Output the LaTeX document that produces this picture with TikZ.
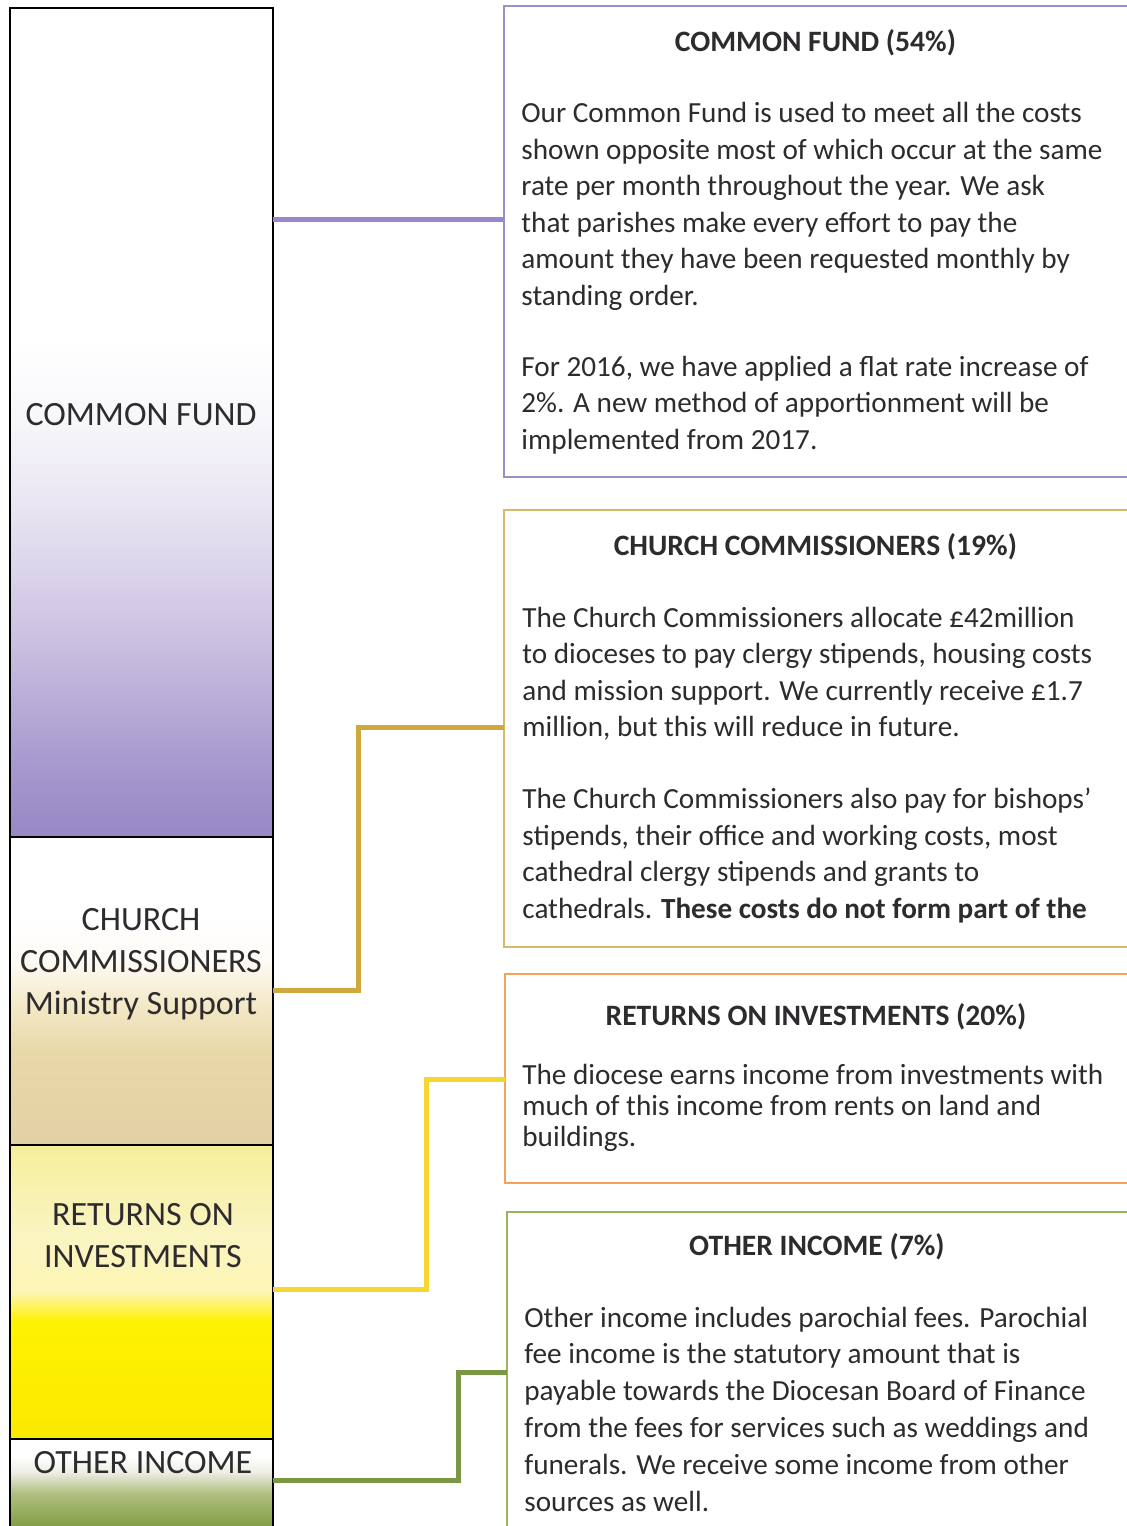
\documentclass[tikz,border=0pt]{standalone}
\usepackage{fontspec}
\setmainfont{Carlito}

\definecolor{inktext}{HTML}{2E2B2E}
\definecolor{cfpurple}{HTML}{9787C4}
\definecolor{cfmidA}{HTML}{A99CD0}
\definecolor{cfmidB}{HTML}{CDC4E3}
\definecolor{cfmidC}{HTML}{E9E5F2}
\definecolor{cfmidD}{HTML}{F7F6FA}
\definecolor{cctan}{HTML}{E2D1A4}
\definecolor{ccmidA}{HTML}{E8D8A8}
\definecolor{ccmidB}{HTML}{F3E8C6}
\definecolor{ccmidC}{HTML}{FDFBF5}
\definecolor{riyellow}{HTML}{FAE900}
\definecolor{rimidA}{HTML}{FFF200}
\definecolor{rimidB}{HTML}{FCF5B4}
\definecolor{rimidC}{HTML}{FAF4C2}
\definecolor{ritop}{HTML}{F6EE9C}
\definecolor{oigreen}{HTML}{7F9A40}
\definecolor{oimidA}{HTML}{B0C080}
\definecolor{oimidB}{HTML}{EEEEE6}
\definecolor{cfline}{HTML}{9A87CB}
\definecolor{ccline}{HTML}{CFA93E}
\definecolor{riline}{HTML}{F6D631}
\definecolor{oiline}{HTML}{7A9844}
\definecolor{cfedge}{HTML}{9D8DC8}
\definecolor{ccedge}{HTML}{D8B968}
\definecolor{riedge}{HTML}{F6A25A}
\definecolor{oiedge}{HTML}{9BB35C}

\pgfdeclareverticalshading{cfshade}{100bp}{color(0bp)=(cfpurple); color(25bp)=(cfpurple);
  color(30bp)=(cfmidA); color(37.5bp)=(cfmidB); color(45bp)=(cfmidC); color(50bp)=(cfmidD);
  color(55bp)=(white); color(100bp)=(white)}
\pgfdeclareverticalshading{ccshade}{100bp}{color(0bp)=(cctan); color(25bp)=(cctan);
  color(40bp)=(ccmidA); color(47.5bp)=(ccmidB); color(55bp)=(ccmidC);
  color(62bp)=(white); color(100bp)=(white)}
\pgfdeclareverticalshading{rishade}{100bp}{color(0bp)=(riyellow); color(25bp)=(riyellow);
  color(45bp)=(rimidA); color(50bp)=(rimidB); color(60bp)=(rimidC);
  color(75bp)=(ritop); color(100bp)=(ritop)}
\pgfdeclareverticalshading{oishade}{100bp}{color(0bp)=(oigreen); color(25bp)=(oigreen);
  color(45bp)=(oimidA); color(57bp)=(oimidB); color(66bp)=(white); color(100bp)=(white)}

\begin{document}
\begin{tikzpicture}[x=0.5pt, y=-0.5pt]
\tikzset{
    barseg/.style= {rectangle, shade, minimum width=131pt, inner sep=0pt, anchor=north west},
    barlbl/.style= {anchor=base, align=center, inner sep=0pt, text=inktext,
        font=\fontsize{17pt}{21pt}\selectfont},
    barline/.style= {draw=black, line width=1pt},
    infobox/.style= {rectangle, inner sep=0pt, anchor=north west},
    boxtitle/.style= {anchor=base, inner sep=0pt, text=inktext,
        font=\bfseries\fontsize{14.8pt}{17pt}\selectfont},
    boxbody/.style= {anchor=base west, align=left, inner sep=0pt, text=inktext,
        font=\fontsize{14.6pt}{18.25pt}\selectfont},
    link/.style= {line width=2.5pt},
}

\path[use as bounding box, fill=white] (0,0) rectangle (1126,1526);

\node[barseg, minimum height=414pt, shading=cfshade] (cf) at (10,8) {};
\node[barseg, minimum height=153.5pt, shading=ccshade] (cc) at (cf.south west) {};
\node[barseg, minimum height=147pt, shading=rishade] (ri) at (cc.south west) {};
\node[barseg, minimum height=44.5pt, shading=oishade] (oi) at (ri.south west) {};

\draw[barline] (oi.south west) -- (cf.north west) -- (cf.north east) -- (oi.south east);
\draw[barline] (cc.north west) -- (cc.north east) (ri.north west) -- (ri.north east)
    (oi.north west) -- (oi.north east);

\node[barlbl] (cflbl) at (141,425) {COMMON FUND};
\node[barlbl] (cclbl) at (141,1014) {CHURCH\\COMMISSIONERS\\Ministry Support};
\node[barlbl] (rilbl) at (143,1267) {RETURNS ON\\INVESTMENTS};
\node[barlbl] (oilbl) at (143,1473) {OTHER INCOME};

\node[infobox, minimum width=311pt, minimum height=235pt] (cfbox) at (504,6) {};
\node[infobox, minimum width=311pt, minimum height=218pt] (ccbox) at (504,510) {};
\node[infobox, minimum width=310.5pt, minimum height=104pt] (ribox) at (505,974) {};
\node[infobox, minimum width=309.5pt, minimum height=157pt] (oibox) at (507,1212) {};

\draw[draw=cfedge, line width=1.1pt] (cfbox.north east) -- (cfbox.north west) -- (cfbox.south west) -- (cfbox.south east);
\draw[draw=ccedge, line width=0.8pt] (ccbox.north east) -- (ccbox.north west) -- (ccbox.south west) -- (ccbox.south east);
\draw[draw=riedge, line width=0.8pt] (ribox.north east) -- (ribox.north west) -- (ribox.south west) -- (ribox.south east);
\draw[draw=oiedge, line width=0.9pt] (oibox.north east) -- (oibox.north west) -- (oibox.south west);

\node[boxtitle] (cftitle) at (cfbox.north |- 0,51) {COMMON FUND (54\%)};
\node[boxtitle] (cctitle) at (ccbox.north |- 0,555) {CHURCH COMMISSIONERS (19\%)};
\node[boxtitle] (rititle) at (ribox.north |- 0,1025) {RETURNS ON INVESTMENTS (20\%)};
\node[boxtitle] (oititle) at (oibox.north |- 0,1255) {OTHER INCOME (7\%)};

\node[boxbody] (cftext) at (521,449) {Our Common Fund is used to meet all the costs\\
shown opposite most of which occur at the same\\
rate per month throughout the year. We ask\\
that parishes make every effort to pay the\\
amount they have been requested monthly by\\
standing order.\\[17.25pt]
For 2016, we have applied a flat rate increase of\\
2\%. A new method of apportionment will be\\
implemented from 2017.};

\node[boxbody] (cctext) at (522,918) {The Church Commissioners allocate £42million\\
to dioceses to pay clergy stipends, housing costs\\
and mission support. We currently receive £1.7\\
million, but this will reduce in future.\\[17.75pt]
The Church Commissioners also pay for bishops’\\
stipends, their office and working costs, most\\
cathedral clergy stipends and grants to\\
cathedrals. \textbf{These costs do not form part of the}};

\node[boxbody, font=\fontsize{14.6pt}{15.5pt}\selectfont] (ritext) at (522,1146) {The diocese earns income from investments with\\
much of this income from rents on land and\\
buildings.};

\node[boxbody, font=\fontsize{14.6pt}{18.4pt}\selectfont] (oitext) at (524,1511) {Other income includes parochial fees. Parochial\\
fee income is the statutory amount that is\\
payable towards the Diocesan Board of Finance\\
from the fees for services such as weddings and\\
funerals. We receive some income from other\\
sources as well.};

\coordinate (cfa) at (cf.east |- 0,219);
\coordinate (cca) at (cc.east |- 0,990);
\coordinate (ccb) at (358,727);
\coordinate (ria) at (ri.east |- 0,1289);
\coordinate (rib) at (426,1079);
\coordinate (oia) at (oi.east |- 0,1480);
\coordinate (oib) at (458,1372);

\draw[link, draw=cfline] (cfa) -- (cfa -| cfbox.west);
\draw[link, draw=ccline] (cca) -| (ccb) -- (ccb -| ccbox.west);
\draw[link, draw=riline] (ria) -| (rib) -- (rib -| ribox.west);
\draw[link, draw=oiline] (oia) -| (oib) -- (oib -| oibox.west);
\end{tikzpicture}
\end{document}
